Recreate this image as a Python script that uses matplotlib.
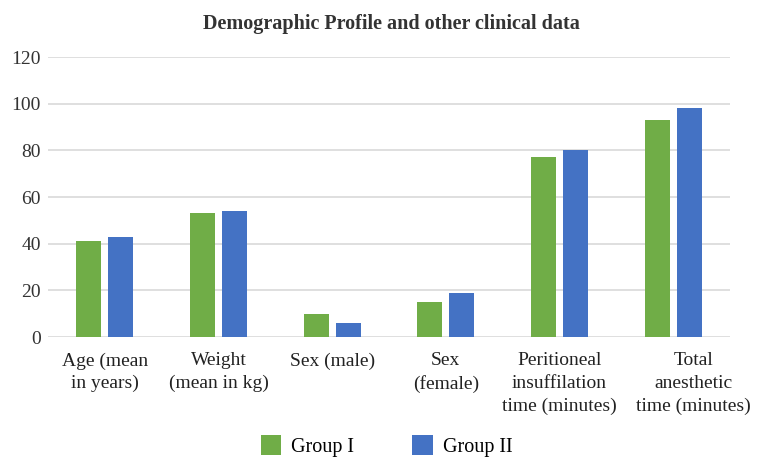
import matplotlib.pyplot as plt
import matplotlib.transforms as mtransforms
import numpy as np

categories = ['Age (mean\nin years)', 'Weight\n(mean in kg)', 'Sex (male)', 'Sex\n(female)',
              'Peritioneal\ninsuffilation\ntime (minutes)', 'Total\nanesthetic\ntime (minutes)']
group1 = [41, 53, 10, 15, 77, 93]
group2 = [43, 54, 6, 19, 80, 98]
yticks = [0, 20, 40, 60, 80, 100, 120]

green = '#70AD47'
blue = '#4472C4'

plt.rcParams['font.family'] = ['Liberation Serif', 'DejaVu Serif']

fig = plt.figure(figsize=(7.58, 4.61), dpi=100)
ax = fig.add_axes([48 / 758, 1 - 337 / 461, 682 / 758, 280 / 461])

x = np.arange(len(categories))
w = 0.22
off = 0.14
ax.bar(x - off, group1, w, color=green, label='Group I', zorder=3)
ax.bar(x + off, group2, w, color=blue, label='Group II', zorder=3)

ax.set_xlim(-0.5, len(categories) - 0.5)
ax.set_ylim(0, 120)
ax.set_yticks(yticks)
ax.tick_params(axis='y', length=0, labelsize=14, colors='#333333', pad=5)
ax.tick_params(axis='x', length=0, labelsize=14, colors='#222222', pad=11)
ax.set_xticks(x)
ax.set_xticklabels(categories, linespacing=1.42)
ax.yaxis.grid(True, color='#D9D9D9', linewidth=1.2, zorder=0)
for s in ax.spines.values():
    s.set_visible(False)

# last label sits a bit to the right, as in the original
lbl = ax.get_xticklabels()[-1]
lbl.set_transform(lbl.get_transform() + mtransforms.ScaledTranslation(0.2, 0, fig.dpi_scale_trans))

fig.suptitle('Demographic Profile and other clinical data', x=0.517, y=0.97,
             fontsize=14.5, fontweight='bold', color='#333333')

fig.legend(loc='lower center', bbox_to_anchor=(0.51, -0.03), ncol=2, frameon=False,
           fontsize=14.5, handlelength=1.0, handleheight=1.2, columnspacing=2.9,
           handletextpad=0.5)

fig.savefig('out.png', dpi=100)
